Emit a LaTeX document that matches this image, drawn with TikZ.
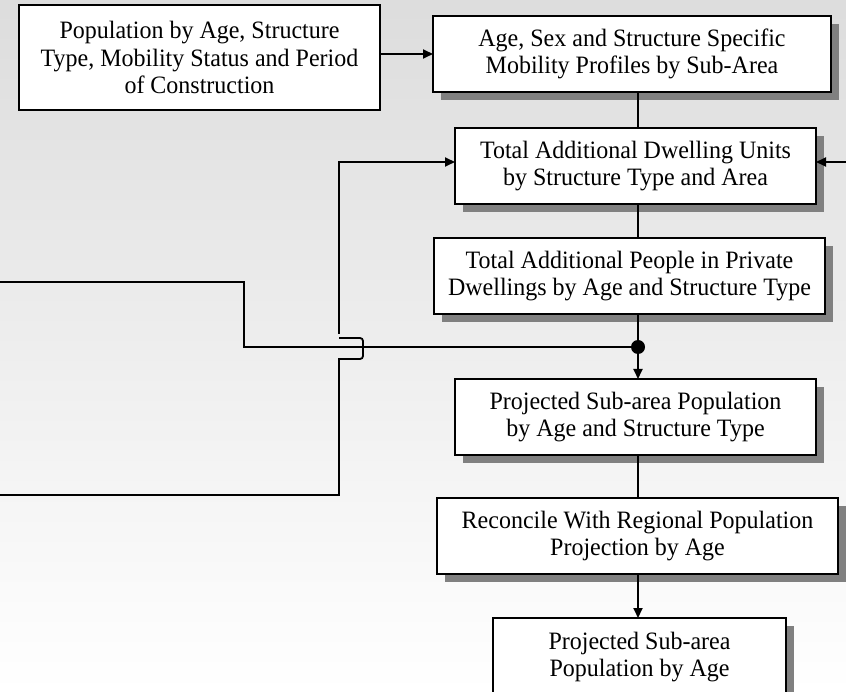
\documentclass[tikz,border=0pt]{standalone}
\usepackage{fontspec}
\setmainfont[FakeStretch=0.96]{Liberation Serif}
\usetikzlibrary{positioning, arrows.meta, shadows}
\tikzset{
	>={Triangle[length=10pt, width=9pt]},
	every node/.style={font=\fontsize{25}{27.7}\selectfont},
	box/.style={draw, line width=1.5pt, fill=white, align=center, inner sep=0pt, outer sep=0pt, minimum height=76pt},
	shadowed/.style={drop shadow={shadow xshift=8pt, shadow yshift=-8pt, fill=black!50, opacity=1}},
	link/.style={line width=1.8pt},
	dot/.style={circle, fill=black, inner sep=0pt, minimum size=14pt}}

\begin{document}
\begin{tikzpicture}[x=1pt, y=1pt]

	\shade[top color=gray!27, bottom color=white] (0,0) rectangle (846,-692);
	\useasboundingbox (0,0) rectangle (846,-692);

	\node[box, minimum width=361pt, minimum height=105pt] (pop) at (199.5,-57.5) {Population by Age, Structure\\Type, Mobility Status and Period\\of Construction};
	\node[box, shadowed, minimum width=398pt, right=53pt of pop, yshift=3.5pt] (mob) {Age, Sex and Structure Specific\\Mobility Profiles by Sub-Area};
	\node[box, shadowed, minimum width=361pt, below=36pt of mob, xshift=3.5pt] (units) {Total Additional Dwelling Units\\by Structure Type and Area};
	\node[box, shadowed, minimum width=391pt, below=34pt of units, xshift=-6pt] (people) {Total Additional People in Private\\Dwellings by Age and Structure Type};
	\node[box, shadowed, minimum width=361pt, below=65pt of people, xshift=6pt] (proj) {Projected Sub-area Population\\by Age and Structure Type};
	\node[box, shadowed, minimum width=401pt, below=43pt of proj, xshift=2pt] (recon) {Reconcile With Regional Population\\Projection by Age};
	\node[box, shadowed, minimum width=293pt, minimum height=78pt, below=44pt of recon, xshift=2pt] (final) {Projected Sub-area\\Population by Age};

	\coordinate (spine) at (638,0);
	\node[dot, yshift=-33pt] (dot) at (people.south -| spine) {};
	\coordinate (inA) at (0,-282);
	\coordinate (inB) at (0,-495);
	\coordinate (inC) at (846,-162);
	\coordinate (bend) at (244,0);
	\coordinate (jump) at (339,0);

	\draw[link]
	(pop.east |- mob.west) edge[->] (mob.west)
	(mob.south -| spine) edge (units.north -| spine)
	(units.south -| spine) edge (people.north -| spine)
	(people.south -| spine) edge (dot)
	(dot) edge[->] (proj.north -| spine)
	(proj.south -| spine) edge (recon.north -| spine)
	(recon.south -| spine) edge[->] (final.north -| spine)
	(inC) edge[->] ([yshift=4pt]units.east)
	;

	\draw[link] (inA) -| (bend |- dot) -- (dot);
	\draw[link] (inB) -| ([yshift=-12pt]jump |- dot) [rounded corners=3pt] -- ++(24,0) -- ++(0,21) -- ++(-24,0);
	\draw[link, ->] ([yshift=13pt]jump |- dot) |- ([yshift=4pt]units.west);

\end{tikzpicture}
\end{document}
